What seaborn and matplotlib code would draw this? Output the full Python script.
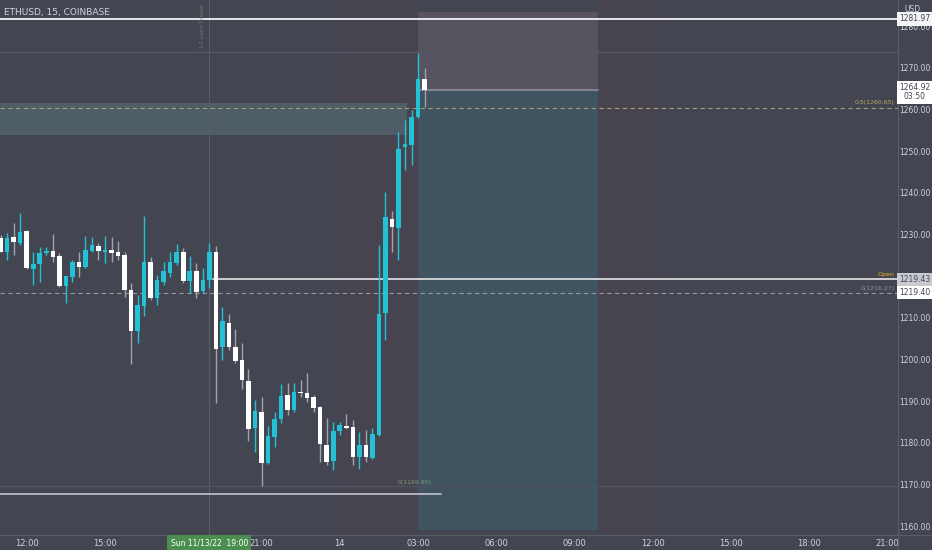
import numpy as np
import pandas as pd
import matplotlib
matplotlib.use("Agg")
import matplotlib.pyplot as plt
import seaborn as sns

# 15 minute ETHUSD candles, first one at Sun 11/13/22 11:00
opens = [1229.4, 1226.0, 1229.6, 1228.2, 1231.0, 1221.9, 1223.1, 1225.8, 1226.2, 1225.0,
         1217.8, 1220.0, 1223.6, 1222.4, 1226.2, 1227.4, 1226.0, 1226.5, 1226.0, 1225.3,
         1216.9, 1207.0, 1213.0, 1223.6, 1215.0, 1218.8, 1221.0, 1223.4, 1226.0, 1219.0,
         1221.4, 1216.6, 1219.3, 1226.0, 1203.2, 1209.0, 1203.2, 1200.1, 1195.0, 1183.8,
         1187.6, 1175.4, 1181.6, 1185.9, 1191.7, 1188.1, 1192.4, 1192.2, 1191.2, 1188.8,
         1179.7, 1175.8, 1183.0, 1184.2, 1184.0, 1176.8, 1179.7, 1176.6, 1182.1, 1211.4,
         1233.9, 1231.8, 1251.2, 1251.7, 1258.4, 1267.5]
highs = [1230.1, 1230.6, 1233.0, 1235.4, 1231.3, 1226.0, 1227.2, 1227.2, 1230.3, 1225.8,
         1220.2, 1224.1, 1226.0, 1229.8, 1229.6, 1228.2, 1229.8, 1229.6, 1228.6, 1226.0,
         1218.6, 1215.7, 1234.6, 1224.8, 1220.5, 1223.6, 1226.0, 1227.9, 1227.0, 1225.0,
         1223.4, 1222.2, 1228.2, 1227.4, 1212.8, 1211.1, 1207.5, 1204.2, 1197.9, 1190.5,
         1191.2, 1184.2, 1187.6, 1194.3, 1194.6, 1194.6, 1195.3, 1197.0, 1191.7, 1189.1,
         1186.2, 1185.2, 1185.2, 1187.1, 1185.7, 1182.8, 1183.3, 1183.8, 1227.7, 1240.4,
         1235.8, 1254.8, 1257.7, 1260.1, 1273.8, 1270.2]
lows = [1226.0, 1224.1, 1225.3, 1227.7, 1221.9, 1218.1, 1218.8, 1225.3, 1223.6, 1217.6,
        1213.8, 1218.8, 1220.0, 1222.2, 1226.0, 1224.1, 1223.4, 1223.6, 1224.1, 1215.2,
        1199.1, 1204.2, 1210.6, 1214.5, 1213.3, 1218.1, 1220.0, 1222.9, 1218.6, 1216.2,
        1215.0, 1216.2, 1217.4, 1189.8, 1200.1, 1202.5, 1199.4, 1193.1, 1180.7, 1178.0,
        1169.9, 1175.2, 1179.2, 1185.0, 1186.9, 1187.6, 1191.2, 1190.0, 1187.6, 1175.6,
        1174.9, 1173.7, 1182.1, 1183.5, 1174.9, 1173.9, 1175.6, 1176.3, 1181.9, 1204.9,
        1226.0, 1224.1, 1245.7, 1246.9, 1258.2, 1260.8]
closes = [1226.1, 1229.4, 1228.4, 1230.8, 1222.2, 1223.1, 1225.8, 1226.2, 1224.8, 1217.8,
          1220.2, 1223.6, 1222.4, 1226.5, 1227.7, 1226.2, 1226.5, 1225.8, 1225.0, 1216.9,
          1207.0, 1213.3, 1223.6, 1215.0, 1219.3, 1221.4, 1223.6, 1226.0, 1219.0, 1221.4,
          1216.4, 1219.3, 1226.0, 1202.7, 1209.4, 1203.2, 1199.9, 1195.3, 1183.5, 1187.8,
          1175.4, 1181.8, 1185.9, 1191.4, 1188.1, 1192.4, 1192.2, 1191.0, 1188.6, 1179.9,
          1175.6, 1183.0, 1184.5, 1183.8, 1176.8, 1179.7, 1176.8, 1182.3, 1211.1, 1234.4,
          1232.0, 1250.7, 1251.9, 1258.4, 1267.5, 1264.92]

tick_labels = ["12:00", "15:00", "21:00", "14", "03:00", "06:00", "09:00",
               "12:00", "15:00", "18:00", "21:00"]
tick_times = ["2022-11-13 12:00", "2022-11-13 15:00", "2022-11-13 21:00", "2022-11-14 00:00",
              "2022-11-14 03:00", "2022-11-14 06:00", "2022-11-14 09:00", "2022-11-14 12:00",
              "2022-11-14 15:00", "2022-11-14 18:00", "2022-11-14 21:00"]
# 1220 is hidden behind the Open / fib price labels
price_ticks = [1160, 1170, 1180, 1190, 1200, 1210, 1230, 1240, 1250, 1260, 1270, 1280]

last_price = 1264.92
open_price = 1219.43
high_line = 1281.97
fib_half = 1260.65
fib_zero = 1216.27
low_line = 1167.9
low_fib = 1169.9
stop_top = 1283.6
target_bottom = 1159.3
zone_top, zone_bottom = 1261.7, 1254.1

start = pd.Timestamp("2022-11-13 11:00")
step = pd.Timedelta(minutes=15)
df = pd.DataFrame({"open": opens, "high": highs, "low": lows, "close": closes})
df["time"] = [start + i * step for i in range(len(df))]
df["idx"] = (df["time"] - start) / step
df["up"] = df["close"] >= df["open"]


def to_idx(t):
    return (pd.Timestamp(t) - start) / step


BG = "#434651"
UP = "#22c1d6"
DOWN = "#ffffff"
TXT = "#d1d4dc"

sns.set_theme(style="dark", rc={"axes.facecolor": BG, "figure.facecolor": BG})
plt.rcParams["font.family"] = ["DejaVu Sans"]

fig = plt.figure(figsize=(9.32, 5.5), dpi=100)
AX_W = 898 / 932
ax = fig.add_axes([0, 15 / 550, AX_W, 535 / 550])
ax.set_facecolor(BG)

x0, x1 = -0.1, 137.6
y0, y1 = 1158.1, 1286.48
ax.set_xlim(x0, x1)
ax.set_ylim(y0, y1)

# session shading
ax.axvspan(52, 64, color="#4a4450", alpha=0.7, lw=0, zorder=0)
ax.axvspan(91.6, 101, color="#4a4450", alpha=0.7, lw=0, zorder=0)

# position tool
ax.fill_between([64, 91.6], last_price, stop_top, color="#57535f", lw=0, zorder=1)
ax.fill_between([64, 91.6], target_bottom, last_price, color="#3f5360", lw=0, zorder=1)
ax.plot([64, 91.6], [last_price, last_price], color="#868b96", lw=1.3, zorder=2)

# zone
ax.fill_between([x0, 62.3], zone_bottom, zone_top, color="#51606a", alpha=0.9, lw=0, zorder=1)

# lines
ax.axvline(31.9, color="#5a5e6a", lw=0.8, zorder=1)
ax.axhline(1274.0, color="#555966", lw=1, zorder=1)
ax.axhline(low_fib, color="#4f5560", lw=1, zorder=1)
ax.axhline(high_line, color="#e8e8ec", lw=1.4, zorder=3)
ax.axhline(fib_half, color="#a39f73", lw=0.8, ls=(0, (4, 3)), zorder=3)
ax.axhline(fib_zero, color="#9598a1", lw=0.8, ls=(0, (4, 3)), zorder=3)
ax.plot([32.5, x1], [open_price, open_price], color="#d8d8dc", lw=1.3, zorder=3)
ax.plot([x0, 67.5], [low_line, low_line], color="#b8bcc6", lw=1.3, zorder=3)

# candles
w = 0.7
for _, r in df.iterrows():
    wick = UP if r["up"] else "#a0a3ab"
    body = UP if r["up"] else DOWN
    ax.vlines(r["idx"], r["low"], r["high"], color=wick, lw=1, zorder=4)
    lo, hi = min(r["open"], r["close"]), max(r["open"], r["close"])
    ax.bar(r["idx"], max(hi - lo, 0.25), bottom=lo, width=w, color=body, lw=0, zorder=5)

ax.set_yticks([])
ax.set_xticks([to_idx(t) for t in tick_times])
ax.set_xticklabels(tick_labels)
ax.tick_params(axis="x", length=0, pad=3, labelsize=6, labelcolor=TXT)
for s in ax.spines.values():
    s.set_visible(False)
ax.grid(False)

fig.add_artist(plt.Line2D([AX_W, AX_W], [0, 1], color="#5a5d68", lw=0.8))
fig.add_artist(plt.Line2D([0, 1], [15 / 550, 15 / 550], color="#5a5d68", lw=0.8))


def ypix(p):
    return ((p - y0) / (y1 - y0) * 535 + 15) / 550


AXIS_X = 915 / 932
for p in price_ticks:
    fig.text(AXIS_X, ypix(p), f"{p:.2f}", fontsize=5.5, color=TXT, ha="center", va="center")

# texts
ax.text(0.005, 0.985, "ETHUSD, 15, COINBASE", transform=ax.transAxes, fontsize=6.5,
        color=TXT, va="top", ha="left")
fig.text(904 / 932, 1 - 9 / 550, "USD", fontsize=5.5, color=TXT, va="center", ha="left")
ax.text(x1 - 0.5, fib_half + 0.6, "0.5(1260.65)", fontsize=4.5, color="#b5a85a", ha="right", va="bottom")
ax.text(x1 - 0.5, fib_zero + 0.4, "0(1216.27)", fontsize=4.5, color="#8d909a", ha="right", va="bottom")
ax.text(x1 - 0.5, open_price + 0.6, "Open", fontsize=4.5, color="#f0b429", ha="right", va="bottom")
ax.text(63.5, low_fib + 0.3, "0(1169.95)", fontsize=4.5, color="#7d9a7a", ha="center", va="bottom")
ax.text(31.3, 1285.5, "1:1 Lunch Session", fontsize=3.5, color="#8a8d84", rotation=90,
        ha="right", va="top", alpha=0.7)


def price_box(p, text, fc, tc="#434651", dy=0.0):
    fig.text(AXIS_X, ypix(p) + dy, text, fontsize=5.5, color=tc, ha="center", va="center",
             linespacing=1.05, bbox=dict(boxstyle="square,pad=0.3", fc=fc, ec="none"))


price_box(high_line, "1281.97", "#f4f4f6")
price_box(last_price, "1264.92\n03:50", "#ffffff", dy=-0.004)
price_box(open_price, "1219.43", "#c8cad0")
price_box(fib_zero, "1219.40", "#ffffff")

# selected time label
sel_x = (to_idx("2022-11-13 19:00") - x0) / (x1 - x0) * AX_W
fig.text(sel_x, 7.5 / 550, "Sun 11/13/22  19:00", fontsize=5.5, color="#ffffff",
         ha="center", va="center",
         bbox=dict(boxstyle="square,pad=0.45", fc="#4a8f4f", ec="none"))

fig.savefig("out.png", dpi=100, facecolor=BG)
